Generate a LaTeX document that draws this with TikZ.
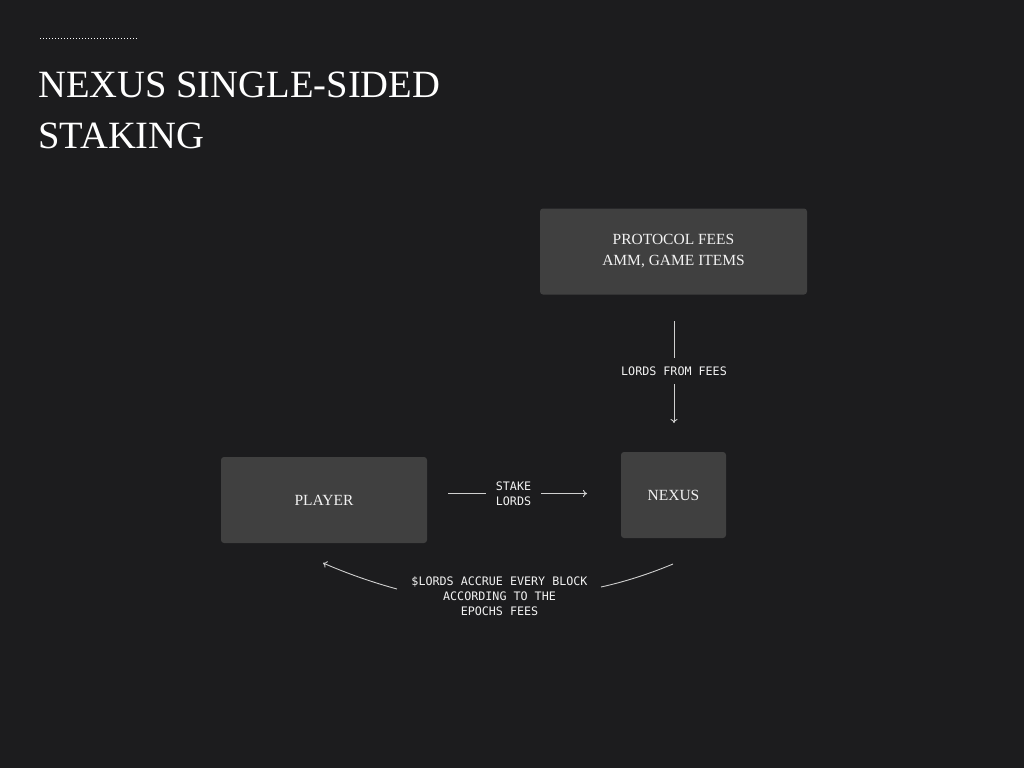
\documentclass[tikz,border=0pt]{standalone}
\usepackage{fontspec}
\setmainfont{Liberation Serif}
\newfontfamily\monofont{DejaVu Sans Mono}
\usetikzlibrary{arrows.meta}
\definecolor{bg}{HTML}{1C1C1E}
\definecolor{boxfill}{HTML}{404040}
\definecolor{txt}{HTML}{F2F2F2}
\definecolor{lin}{HTML}{D0D0D0}
\tikzset{
  card/.style={fill=boxfill, rounded corners=3pt, inner sep=0pt, text=txt, font=\fontsize{15.5}{21}\selectfont, align=center},
  lbl/.style={text=txt, font=\monofont\fontsize{11.7}{15}\selectfont, align=center, inner sep=0pt},
  conn/.style={draw=lin, line width=0.9pt},
  tip/.style={-{To[length=4pt,width=7pt]}},
  title/.style={text=white, font=\fontsize{38.6}{50}\selectfont, anchor=base west, inner sep=0pt}
}
\begin{document}
\begin{tikzpicture}[x=1pt,y=-1pt]
\fill[bg] (0,0) rectangle (1024,768);
\useasboundingbox (0,0) rectangle (1024,768);
% header rule
\coordinate (r1) at (40,38);
\coordinate (r2) at (138,38);
\draw[white, line width=0.8pt, dash pattern=on 1pt off 2pt] (r1) -- (r2);
% title
\node[title] (t1) at (38,97) {NEXUS SINGLE-SIDED};
\node[title] (t2) at (38,148) {STAKING};
% boxes
\node[card, minimum width=267pt, minimum height=86pt] (fees) at (673.5,251.5) {PROTOCOL FEES\\AMM, GAME ITEMS};
\node[card, minimum width=206pt, minimum height=86pt] (player) at (324,500) {PLAYER};
\node[card, minimum width=105pt, minimum height=86pt] (nexus) at (673.5,495) {NEXUS};
% fees -> nexus
\node[lbl] (lf) at (674,371.5) {LORDS FROM FEES};
\coordinate (f1) at (674,321);
\coordinate (f2) at (674,358);
\coordinate (f3) at (674,384);
\coordinate (f4) at (674,423);
\draw[conn] (f1) -- (f2);
\draw[conn, tip] (f3) -- (f4);
% stake
\node[lbl] (ls) at (513.5,494) {STAKE\\LORDS};
\coordinate (s1) at (448,493.5);
\coordinate (s2) at (486,493.5);
\coordinate (s3) at (541,493.5);
\coordinate (s4) at (587,493.5);
\draw[conn] (s1) -- (s2);
\draw[conn, tip] (s3) -- (s4);
% accrue
\node[lbl] (la) at (499.5,596.5) {\$LORDS ACCRUE EVERY BLOCK\\ACCORDING TO THE\\EPOCHS FEES};
\coordinate (a1) at (673,564);
\coordinate (a2) at (601,587);
\coordinate (a3) at (397,589);
\coordinate (a4) at (323,563);
\draw[conn] (a1) .. controls (649,574) and (625,581.7) .. (a2);
\draw[conn, tip] (a3) .. controls (372.3,582.3) and (347.7,573.7) .. (a4);
\end{tikzpicture}
\end{document}
